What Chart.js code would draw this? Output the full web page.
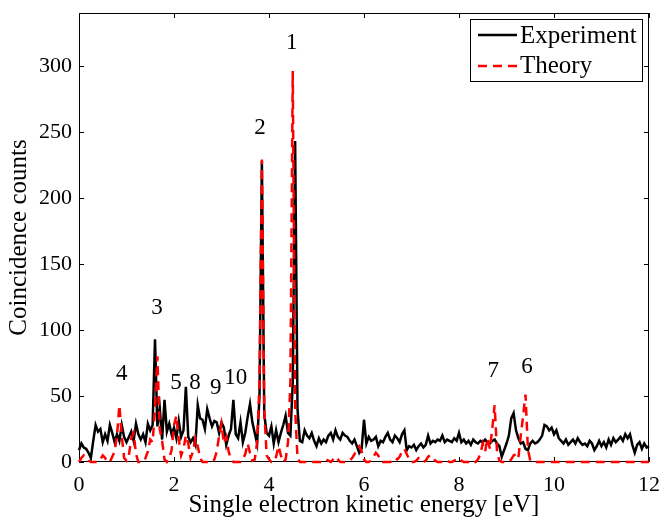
<!DOCTYPE html>
<html>
<head>
<meta charset="utf-8">
<script src="https://cdn.jsdelivr.net/npm/chart.js@4.4.1/dist/chart.umd.min.js"></script>
<style>
  html, body { margin: 0; padding: 0; background: #fff; }
  #wrap { width: 661px; height: 520px; }
</style>
</head>
<body>
<div id="wrap"><canvas id="spectrum"></canvas></div>
<script>
// energy grid step [eV], values every 0.05 eV from 0 to 12
const energyStep = 0.05;

const experiment = [
  9, 14, 11, 10, 7, 3, 16, 28, 23, 25, 15, 21, 16, 28, 22, 15, 21, 16, 28, 19,
  15, 19, 23, 16, 29, 21, 17, 21, 15, 29, 24, 28, 93, 27, 41, 17, 47, 23, 29, 21,
  26, 18, 31, 19, 24, 57, 19, 15, 18, 13, 43, 33, 32, 25, 40, 33, 27, 31, 30, 22,
  30, 26, 13, 20, 25, 47, 21, 18, 30, 15, 22, 34, 44, 30, 22, 14, 50, 228, 36, 22,
  20, 27, 14, 24, 15, 22, 28, 35, 22, 20, 60, 243, 40, 16, 15, 24, 20, 18, 22, 16,
  12, 18, 14, 17, 15, 20, 22, 17, 24, 19, 17, 22, 20, 19, 16, 14, 17, 12, 7, 10,
  32, 14, 19, 16, 17, 19, 12, 16, 15, 19, 22, 17, 15, 20, 18, 15, 21, 24, 9, 12,
  11, 13, 9, 12, 14, 11, 13, 20, 14, 16, 15, 17, 16, 20, 15, 17, 16, 15, 18, 16,
  22, 15, 17, 14, 16, 13, 17, 15, 14, 16, 15, 17, 15, 14, 16, 17, 14, 12, 4, 9,
  14, 20, 33, 37, 24, 18, 14, 15, 10, 9, 14, 16, 14, 15, 17, 20, 28, 27, 24, 26,
  21, 24, 18, 16, 14, 17, 13, 15, 17, 14, 18, 15, 13, 14, 12, 16, 14, 9, 12, 16,
  12, 15, 11, 17, 13, 18, 15, 17, 19, 16, 21, 18, 21, 13, 7, 13, 15, 10, 14, 11,
  12
];

const theory = [
  0, 3, 5, 4, 1, 0, 0, 0, 0, 2, 5, 3, 0, 0, 4, 8, 20, 43, 20, 3,
  1, 5, 18, 22, 6, 0, 0, 0, 3, 8, 17, 15, 40, 80, 25, 16, 2, 0, 3, 9,
  28, 35, 17, 5, 10, 20, 14, 3, 8, 18, 12, 3, 0, 0, 0, 0, 0, 2, 8, 20,
  29, 14, 19, 8, 2, 0, 0, 0, 0, 2, 6, 14, 7, 1, 2, 15, 60, 229, 40, 5,
  2, 0, 0, 4, 12, 5, 0, 2, 15, 60, 296, 40, 3, 0, 0, 0, 0, 0, 0, 0,
  0, 0, 0, 1, 2, 1, 0, 2, 4, 2, 0, 0, 0, 0, 1, 3, 6, 10, 12, 8,
  2, 0, 0, 1, 4, 7, 5, 1, 0, 0, 0, 0, 1, 3, 2, 4, 8, 10, 6, 2,
  0, 0, 1, 3, 2, 0, 1, 4, 5, 3, 1, 0, 0, 0, 0, 1, 0, 0, 1, 2,
  3, 1, 0, 0, 0, 1, 0, 0, 2, 6, 14, 8, 18, 10, 25, 43, 8, 1, 0, 0,
  0, 0, 2, 5, 6, 3, 20, 35, 51, 10, 1, 0, 0, 0, 0, 0, 0, 0, 0, 0,
  0, 0, 0, 0, 0, 0, 0, 0, 0, 0, 0, 0, 0, 0, 0, 0, 0, 0, 0, 0,
  0, 0, 0, 0, 0, 0, 0, 0, 0, 0, 0, 0, 0, 0, 0, 0, 0, 0, 0, 0,
  0
];

// peak labels and where they sit (eV, counts)
const peakNames = ['1', '2', '3', '4', '5', '8', '9', '10', '7', '6'];
const peakEnergy = [4.48, 3.81, 1.64, 0.90, 2.04, 2.44, 2.88, 3.30, 8.72, 9.43];
const peakCounts = [317, 253, 117, 67, 60, 60, 56, 64, 69, 72];

const xTicks = [0, 2, 4, 6, 8, 10, 12];
const yTicks = [0, 50, 100, 150, 200, 250, 300];

const serif = "'Liberation Serif', 'Times New Roman', serif";

const toPoints = (vals) => vals.map((v, i) => ({ x: +(i * energyStep).toFixed(2), y: v }));

// box and inward ticks go under the lines
const frame = {
  id: 'frame',
  beforeDatasetsDraw(chart) {
    const { ctx, chartArea: a, scales: { x, y } } = chart;
    ctx.save();
    ctx.strokeStyle = '#000';
    ctx.lineWidth = 1;
    ctx.strokeRect(a.left + 0.5, a.top + 0.5, a.right - a.left - 1, a.bottom - a.top - 1);
    ctx.beginPath();
    xTicks.forEach(t => {
      const px = Math.round(x.getPixelForValue(t)) + 0.5;
      ctx.moveTo(px, a.bottom); ctx.lineTo(px, a.bottom - 5);
      ctx.moveTo(px, a.top); ctx.lineTo(px, a.top + 5);
    });
    yTicks.forEach(t => {
      const py = Math.round(y.getPixelForValue(t)) + 0.5;
      ctx.moveTo(a.left, py); ctx.lineTo(a.left + 5, py);
      ctx.moveTo(a.right, py); ctx.lineTo(a.right - 5, py);
    });
    ctx.stroke();
    ctx.restore();
  }
};

// peak numbers and the legend box
const decorations = {
  id: 'decorations',
  afterDraw(chart) {
    const { ctx, scales: { x, y } } = chart;
    ctx.save();
    ctx.fillStyle = '#000';
    ctx.font = '23px ' + serif;
    ctx.textAlign = 'center';
    ctx.textBaseline = 'middle';
    peakNames.forEach((n, i) => {
      ctx.fillText(n, x.getPixelForValue(peakEnergy[i]), y.getPixelForValue(peakCounts[i]));
    });

    // legend
    const lx = 470, ly = 19, lw = 172, lh = 62;
    ctx.fillStyle = '#fff';
    ctx.fillRect(lx, ly, lw, lh);
    ctx.strokeStyle = '#000';
    ctx.lineWidth = 1;
    ctx.strokeRect(lx + 0.5, ly + 0.5, lw, lh);
    ctx.lineWidth = 2.5;
    ctx.beginPath(); ctx.moveTo(478, 35); ctx.lineTo(517, 35); ctx.stroke();
    ctx.strokeStyle = '#ff0000';
    ctx.lineWidth = 2.5;
    ctx.setLineDash([9, 6]);
    ctx.beginPath(); ctx.moveTo(478, 66); ctx.lineTo(517, 66); ctx.stroke();
    ctx.setLineDash([]);
    ctx.fillStyle = '#000';
    ctx.font = '25px ' + serif;
    ctx.textAlign = 'left';
    ctx.fillText('Experiment', 520, 36);
    ctx.fillText('Theory', 520, 66);
    ctx.restore();
  }
};

const spectrumChart = new Chart(document.getElementById('spectrum'), {
  type: 'line',
  data: {
    datasets: [{
      label: 'Experiment',
      data: toPoints(experiment),
      borderColor: '#000000',
      borderWidth: 2.5,
      pointRadius: 0,
      tension: 0,
      clip: 3,
      order: 1
    },
    {
      label: 'Theory',
      data: toPoints(theory),
      borderColor: '#ff0000',
      borderWidth: 2.5,
      borderDash: [9, 6],
      pointRadius: 0,
      tension: 0,
      clip: 3,
      order: 0
    }]
  },
  options: {
    responsive: true,
    maintainAspectRatio: false,
    animation: false,
    layout: { padding: { top: 13, right: 12, left: 0, bottom: 0 } },
    scales: {
      x: {
        type: 'linear',
        min: 0,
        max: 12,
        grid: { display: false, drawTicks: false },
        border: { display: false },
        afterBuildTicks: (s) => { s.ticks = xTicks.map(v => ({ value: v })); },
        afterFit: (s) => { s.height = 58; s.paddingLeft = 0; s.paddingRight = 0; },
        ticks: {
          color: '#000',
          padding: 10,
          maxRotation: 0,
          font: { family: serif, size: 22 }
        },
        title: {
          display: true,
          text: 'Single electron kinetic energy [eV]',
          color: '#000',
          padding: { top: 0, bottom: 0 },
          font: { family: serif, size: 25 }
        }
      },
      y: {
        min: 0,
        max: 340,
        grid: { display: false, drawTicks: false },
        border: { display: false },
        afterBuildTicks: (s) => { s.ticks = yTicks.map(v => ({ value: v })); },
        afterFit: (s) => { s.width = 79; s.paddingTop = 0; s.paddingBottom = 0; },
        ticks: {
          color: '#000',
          padding: 7,
          font: { family: serif, size: 22 }
        },
        title: {
          display: true,
          text: 'Coincidence counts',
          color: '#000',
          padding: { top: 4, bottom: 0 },
          font: { family: serif, size: 25 }
        }
      }
    },
    plugins: {
      legend: { display: false },
      tooltip: { enabled: false }
    }
  },
  plugins: [frame, decorations]
});
</script>
</body>
</html>
